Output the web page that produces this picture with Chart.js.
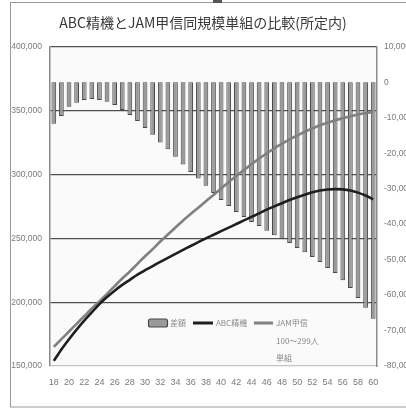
<!DOCTYPE html>
<html>
<head>
<meta charset="utf-8">
<script src="https://cdn.jsdelivr.net/npm/chart.js@4"></script>
<style>
  html, body { margin: 0; padding: 0; background: #fff; overflow: hidden; }
  #wrap { width: 406px; height: 409px; }
</style>
</head>
<body>
<div id="wrap"><canvas id="chart" width="406" height="409"></canvas></div>
<script>
// ── data ──────────────────────────────────────────────
const titleText = 'ABC精機とJAM甲信同規模単組の比較(所定内)';
const ages = [18, 19, 20, 21, 22, 23, 24, 25, 26, 27, 28, 29, 30, 31, 32, 33, 34, 35, 36, 37, 38, 39,
              40, 41, 42, 43, 44, 45, 46, 47, 48, 49, 50, 51, 52, 53, 54, 55, 56, 57, 58, 59, 60];
const seriesNames = ['差額', 'ABC精機', 'JAM甲信\n100～299人\n単組'];

// 差額 (right axis)
const diff = [-11700, -9500, -6900, -5800, -5000, -4700, -5000, -5500, -6400, -7800, -9200, -10900,
              -12900, -14800, -17000, -18900, -21000, -23200, -25300, -27100, -29200, -31200,
              -33200, -34900, -36600, -38000, -39400, -40500, -41900, -43100, -44200, -45300,
              -46700, -47900, -49300, -50700, -52400, -53800, -55800, -58000, -60800, -63600, -66700];
// ABC精機 (left axis)
const abc = [154000, 163000, 171000, 178500, 185500, 192000, 198500, 204000, 209000, 213500, 217500, 221500,
             225000, 228300, 231500, 234700, 237800, 240900, 244000, 247000, 250000, 252800,
             255600, 258400, 261200, 264000, 266800, 269500, 272500, 275000, 277500, 280000,
             282200, 284200, 286000, 287400, 288200, 288500, 288300, 287400, 285800, 283500, 280500];
// JAM甲信 100～299人 単組 (left axis)
const jam = [165000, 171000, 177000, 183000, 189000, 195000, 200500, 206500, 212500, 218500, 224000, 230000,
             236000, 241500, 247500, 253000, 258500, 264000, 269000, 274000, 279000, 284000,
             289000, 294000, 299000, 303500, 308000, 312500, 316500, 320500, 324000, 327500,
             330500, 333500, 336000, 338500, 340500, 342500, 344000, 345500, 347000, 348000, 349000];

const leftAxis = { min: 150000, max: 400000, step: 50000 };
const rightAxis = { min: -80000, max: 10000, step: 10000 };

// ── styles ────────────────────────────────────────────
const C = {
    barFill: '#9a9a9a', barEdge: '#484848',
    abc: '#1f1f1f', jam: '#808080',
    grid: '#4f4f4f', gridLight: '#c4c4c4',
    axis: '#8a8a8a', tick: '#7a7a7a', title: '#3a3a3a', frame: '#9a9a9a'
};
const TICK_FONT = { family: "'Liberation Sans', 'DejaVu Sans', sans-serif", size: 8.5 };
const CJK = "'Noto Sans CJK JP', 'Noto Sans', sans-serif";

// outer frame + plot background
const framePlugin = {
    id: 'frame',
    beforeDraw(chart) {
        const ctx = chart.ctx, a = chart.chartArea;
        ctx.save();
        ctx.fillStyle = '#fff';
        ctx.fillRect(0, 0, chart.width, chart.height);
        ctx.strokeStyle = C.frame;
        ctx.lineWidth = 1;
        ctx.strokeRect(10.5, 2.5, 420, 404.5);
        ctx.fillStyle = '#555';
        ctx.fillRect(213, 0, 9, 3);
        ctx.fillStyle = '#fafafa';
        ctx.fillRect(a.left, a.top, a.right - a.left, a.bottom - a.top);
        ctx.restore();
    }
};

// legend drawn inside the plot area
const legendPlugin = {
    id: 'innerLegend',
    afterDraw(chart) {
        const ctx = chart.ctx;
        const y = 323;
        ctx.save();
        ctx.font = '8px ' + CJK;
        ctx.fillStyle = '#8a8a8a';
        ctx.textBaseline = 'middle';
        ctx.textAlign = 'left';
        // bar key
        ctx.fillStyle = C.barFill;
        ctx.strokeStyle = C.barEdge;
        ctx.lineWidth = 1.2;
        ctx.beginPath();
        ctx.roundRect(148.5, y - 4, 19, 8, 2);
        ctx.fill();
        ctx.stroke();
        ctx.fillStyle = '#8a8a8a';
        ctx.fillText(seriesNames[0], 170, y);
        // line keys
        const keys = [[193, 213, 216, C.abc, seriesNames[1]], [254, 273, 276, C.jam, seriesNames[2]]];
        keys.forEach(([x0, x1, tx, col, name]) => {
            ctx.strokeStyle = col;
            ctx.lineWidth = 3;
            ctx.beginPath();
            ctx.moveTo(x0, y);
            ctx.lineTo(x1, y);
            ctx.stroke();
            name.split('\n').forEach((s, i) => ctx.fillText(s, tx, y + i * 17.5));
        });
        ctx.restore();
    }
};

new Chart(document.getElementById('chart').getContext('2d'), {
    type: 'bar',
    data: {
        labels: ages,
        datasets: [
            { type: 'line', label: seriesNames[1], data: abc, yAxisID: 'y', order: 1,
              borderColor: C.abc, borderWidth: 2.6, pointRadius: 0, tension: 0.3, fill: false },
            { type: 'line', label: seriesNames[2], data: jam, yAxisID: 'y', order: 2,
              borderColor: C.jam, borderWidth: 2.6, pointRadius: 0, tension: 0.3, fill: false },
            { type: 'bar', label: seriesNames[0], data: diff, yAxisID: 'y1', order: 3,
              backgroundColor: C.barFill, borderColor: C.barEdge, borderWidth: 1,
              barPercentage: 0.62, categoryPercentage: 1.0, borderSkipped: false }
        ]
    },
    options: {
        responsive: false,
        devicePixelRatio: 1,
        animation: false,
        layout: { padding: 0 },
        plugins: {
            legend: { display: false },
            tooltip: { enabled: false },
            title: {
                display: true, text: titleText, color: C.title,
                font: { family: CJK, size: 14, weight: 'normal' },
                padding: { top: 14, bottom: 16 }
            }
        },
        scales: {
            x: {
                offset: true,
                grid: { display: false, drawTicks: false },
                border: { display: false },
                ticks: {
                    autoSkip: false, maxRotation: 0, padding: 11, color: C.tick, font: { ...TICK_FONT, size: 9 },
                    callback: (v, i) => (ages[i] % 2 === 0 ? String(ages[i]) : '')
                },
                afterFit: s => { s.height = 43; }
            },
            y: {
                position: 'left', min: leftAxis.min, max: leftAxis.max,
                grid: {
                    drawTicks: false, lineWidth: 1.3,
                    color: c => (c.tick && c.tick.value === leftAxis.min ? C.gridLight : C.grid)
                },
                border: { display: true, color: C.axis, width: 1.5 },
                ticks: {
                    stepSize: leftAxis.step, autoSkip: false, padding: 8, color: C.tick, font: TICK_FONT,
                    callback: v => v.toLocaleString('en-US')
                },
                afterFit: s => { s.width = 50; }
            },
            y1: {
                position: 'right', min: rightAxis.min, max: rightAxis.max,
                grid: { display: false, drawTicks: false },
                border: { display: true, color: C.axis, width: 1.5 },
                ticks: {
                    stepSize: rightAxis.step, autoSkip: false, padding: 7, color: C.tick, font: TICK_FONT,
                    callback: v => v.toLocaleString('en-US')
                },
                afterFit: s => { s.width = 29; }
            }
        }
    },
    plugins: [framePlugin, legendPlugin]
});
</script>
</body>
</html>
